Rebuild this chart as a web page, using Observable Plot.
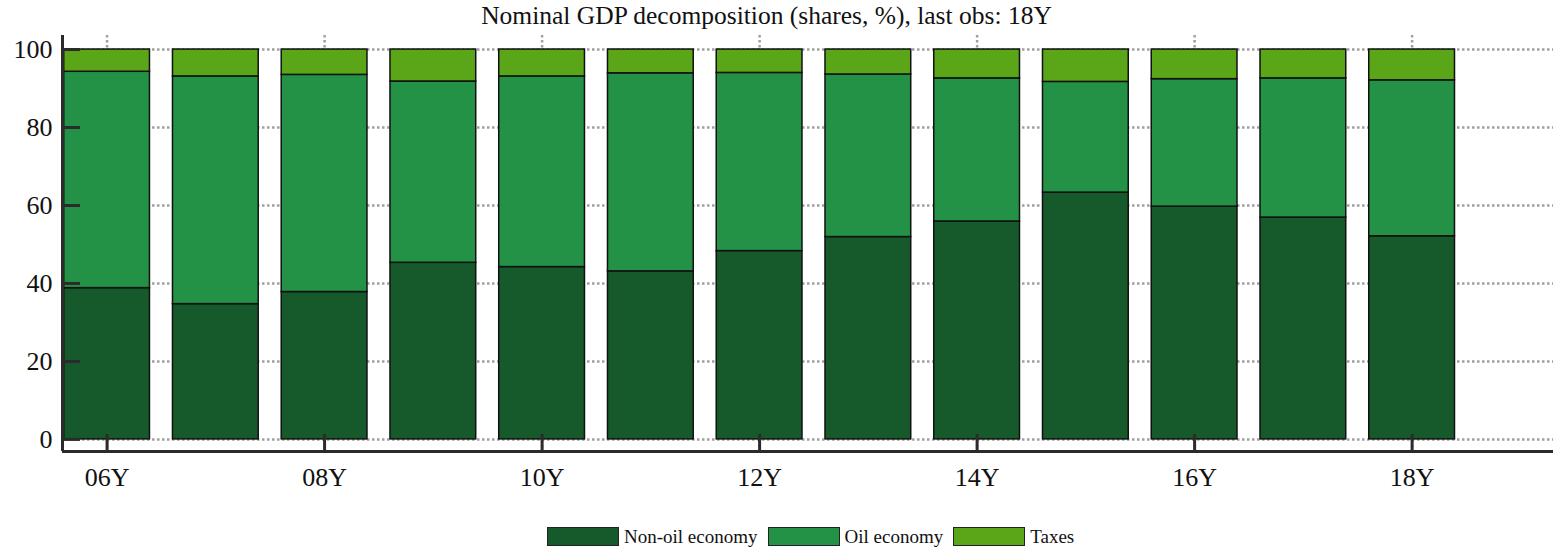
<!DOCTYPE html>
<html>
<head>
<meta charset="utf-8">
<script src="https://cdn.jsdelivr.net/npm/d3@7"></script>
<script src="https://cdn.jsdelivr.net/npm/@observablehq/plot@0.6"></script>
<style>
  body { margin: 0; background: white; font-family: "Liberation Serif", "Times New Roman", serif; }
  #wrap { width: 1553px; height: 553px; position: relative; overflow: hidden; }
  #title { width: 1533px; height: 34px; line-height: 32px; text-align: center; font-size: 25.5px; color: #111; font-family: "Liberation Serif", serif; }
  #legend { position: absolute; top: 527px; left: 547px; display: flex; align-items: center; font-size: 19px; color: #111; }
  .sw { width: 70px; height: 17px; border: 1px solid #222; margin-right: 5px; }
  .lab { margin-right: 10px; line-height: 19px; }
</style>
</head>
<body>
<div id="wrap">
  <div id="title">Nominal GDP decomposition (shares, %), last obs: 18Y</div>
  <div id="chart"></div>
  <div id="legend"></div>
</div>
<script>
// ---- data ----
const years = [6, 7, 8, 9, 10, 11, 12, 13, 14, 15, 16, 17, 18];
const yearLabels = ["06Y","07Y","08Y","09Y","10Y","11Y","12Y","13Y","14Y","15Y","16Y","17Y","18Y"];
const seriesNames = ["Non-oil economy", "Oil economy", "Taxes"];
const nonOil = [38.8, 34.7, 37.8, 45.3, 44.2, 43.1, 48.3, 51.9, 55.9, 63.3, 59.7, 56.9, 52.1];
const oil    = [55.5, 58.4, 55.7, 46.5, 48.9, 50.8, 45.7, 41.7, 36.7, 28.4, 32.7, 35.7, 40.0];
const taxes  = [5.7, 6.9, 6.5, 8.2, 6.9, 6.1, 6.0, 6.4, 7.4, 8.3, 7.6, 7.4, 7.9];
const xTicks = [6, 8, 10, 12, 14, 16, 18];
const xTickLabels = ["06Y","08Y","10Y","12Y","14Y","16Y","18Y"];
const yTicks = [0, 20, 40, 60, 80, 100];
const colors = ["#165a2c", "#239146", "#5aa618"];

// ---- build stacked table ----
const seriesValues = [nonOil, oil, taxes];
const rows = [];
years.forEach((yr, i) => {
  let base = 0;
  seriesValues.forEach((vals, s) => {
    rows.push({year: yr, label: yearLabels[i], series: seriesNames[s], y1: base, y2: base + vals[i]});
    base += vals[i];
  });
});

const W = 1553, H = 466, mL = 62, mR = 0, mT = 1, mB = 49;
const plotW = W - mL - mR, plotH = H - mT - mB;
const xDomain = [5.59, 19.3];
const yDomain = [-3.1, 103.6];
const axisColor = "#2b2b2b";
const gridColor = "#a0a0a0";

const chart = Plot.plot({
  width: W, height: H,
  marginLeft: mL, marginRight: mR, marginTop: mT, marginBottom: mB,
  style: {fontFamily: "Liberation Serif, Times New Roman, serif", fontSize: "26px", color: "#111", background: "white"},
  x: {type: "linear", domain: xDomain, axis: null},
  y: {domain: yDomain, axis: null},
  color: {domain: seriesNames, range: colors},
  marks: [
    Plot.ruleY(yTicks, {y: d => d, stroke: gridColor, strokeWidth: 2.5, strokeDasharray: "2.5,2.5"}),
    Plot.ruleX(xTicks, {x: d => d, stroke: gridColor, strokeWidth: 2.5, strokeDasharray: "2.5,2.5"}),
    Plot.rect(rows, {
      x1: d => d.year - 0.5, x2: d => d.year + 0.5,
      y1: "y1", y2: "y2",
      fill: "series", stroke: "#111", strokeWidth: 1.5,
      insetLeft: 11.5, insetRight: 11.5
    }),
    Plot.ruleX([xDomain[0]], {stroke: axisColor, strokeWidth: 3}),
    Plot.ruleY([yDomain[0]], {stroke: axisColor, strokeWidth: 3}),
    Plot.tickY(yTicks, {y: d => d, stroke: axisColor, strokeWidth: 3, insetRight: plotW - 18}),
    Plot.tickX(xTicks, {x: d => d, stroke: axisColor, strokeWidth: 3, insetTop: plotH - 17}),
    Plot.axisY(yTicks, {tickSize: 0, tickPadding: 10, fontSize: 26, tickFormat: d => String(d)}),
    Plot.axisX(xTicks, {tickSize: 0, tickPadding: 16, fontSize: 26, tickFormat: d => xTickLabels[xTicks.indexOf(d)]})
  ]
});
document.getElementById("chart").appendChild(chart);

// ---- legend ----
const legend = document.getElementById("legend");
seriesNames.forEach((name, i) => {
  const sw = document.createElement("div");
  sw.className = "sw";
  sw.style.background = colors[i];
  legend.appendChild(sw);
  const lab = document.createElement("span");
  lab.className = "lab";
  lab.textContent = name;
  legend.appendChild(lab);
});
</script>
</body>
</html>
